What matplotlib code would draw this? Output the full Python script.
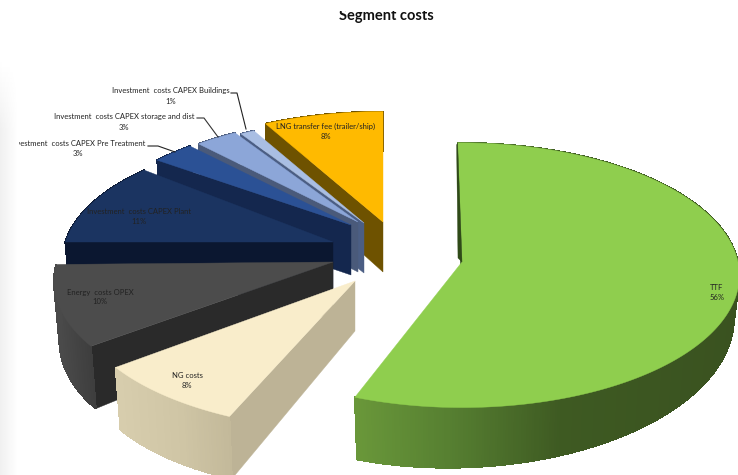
"""
Exploded 3D pie of the segment costs, projected by hand onto a pixel-sized axes
"""
import numpy as np
import matplotlib
matplotlib.use('Agg')
import matplotlib.pyplot as plt
from matplotlib.colors import to_rgb
from matplotlib.patches import Rectangle

names = ['TTF', 'NG costs', 'Energy  costs OPEX', 'Investment  costs CAPEX Plant',
         'Investment  costs CAPEX Pre Treatment', 'Investment  costs CAPEX storage and dist',
         'Investment  costs CAPEX Buildings', 'LNG transfer fee (trailer/ship)']
shares = [56, 8, 10, 11, 3, 3, 1, 8]

# look of each slice
top_colors = ['#8FCE4E', '#F9EDCB', '#4C4C4C', '#1B3461', '#2B5195', '#8CA6D8', '#A9BEE3', '#FFBA00']
edge_colors = ['#2F4A18', '#BDB396', '#2A2A2A', '#0B1730', '#14274E', '#4A5A7A', '#4B5E84', '#6E5200']
arc_stops = [
    [(352, '#6A983A'), (450, '#567F31'), (560, '#3E5A22'), (738, '#3A5220')],
    [(110, '#D8CEAE'), (180, '#CFC5A5'), (232, '#C2B899')],
    [(57, '#4A4A4A'), (95, '#3C3C3C')],
    [(60, '#0B1730'), (150, '#0B1730')],
    [(160, '#14274E'), (200, '#14274E')],
    [(200, '#4A5A7A'), (240, '#4A5A7A')],
    [(240, '#4B5E84'), (250, '#4B5E84')],
    [(265, '#6E5200'), (383, '#6E5200')],
]
apex_x = [462, 355, 333, 333, 351, 358, 364, 383]
apex_y = [262, 281, 262, 242, 225, 222, 223, 222]
rotate = [-1, 1.5, 2.5, 3.6, 0, 0, 0, 0]
reach = [1, 1, 1, 0.97, 0.94, 0.93, 0.93, 1]
persp = [0.10, 0.15, 0.15, 0.15, 0.15, 0.15, 0.15, 0.15]
radius_y = [131, 127, 127, 127, 127, 127, 127, 127]

draw_order = [7, 6, 5, 4, 3, 2, 1, 0]

RX = 276.0


def rim(i, theta, depth=False, r=1.0):
    # screen position of a point on slice i, theta clockwise from the top
    t = np.radians(np.asarray(theta) + rotate[i])
    u, v = np.sin(t) * r * reach[i], -np.cos(t) * r * reach[i]
    w = 1.0 / (1.0 - persp[i] * v)
    x, y = RX * u * w, radius_y[i] * v * w
    if depth:
        x = x * 0.98
        y = y + 50 - 8 * u + 10 * v
    return apex_x[i] + x, apex_y[i] + y


def mix(stops, x):
    xs = [s[0] for s in stops]
    rgb = np.array([to_rgb(s[1]) for s in stops])
    return [np.interp(x, xs, rgb[:, k]) for k in range(3)]


fig = plt.figure(figsize=(7.38, 4.75), dpi=100)
ax = fig.add_axes([0, 0, 1, 1])
plt.rcParams['font.family'] = ['Lato', 'DejaVu Sans']

edges = np.concatenate([[0], np.cumsum(shares)]) / float(sum(shares)) * 360.0

for n, i in enumerate(draw_order):
    z = 2 + n * 0.1
    a0, a1 = edges[i], edges[i + 1]
    thetas = np.linspace(a0, a1, max(int(a1 - a0) * 2, 6))
    tx, ty = rim(i, thetas)
    bx, by = rim(i, thetas, depth=True)

    # flat side along the first edge, then the curved outer side in strips
    ox, oy = rim(i, a0, depth=True, r=0.0)
    ax.fill([apex_x[i], tx[0], bx[0], ox], [apex_y[i], ty[0], by[0], oy],
            color=edge_colors[i], lw=0.3, zorder=z)
    for k in range(len(thetas) - 1):
        c = mix(arc_stops[i], (tx[k] + tx[k + 1]) / 2)
        ax.fill([tx[k], tx[k + 1], bx[k + 1], bx[k]], [ty[k], ty[k + 1], by[k + 1], by[k]],
                color=c, lw=0.6, antialiased=False, zorder=z)

    ax.fill(np.r_[apex_x[i], tx], np.r_[apex_y[i], ty], color=top_colors[i], lw=0.3, zorder=z)

# thin dark back side of the big slice
bx0, by0 = rim(0, 0)
ax.fill([apex_x[0], bx0, bx0 - 1, apex_x[0] - 4], [apex_y[0], by0, by0 + 2, apex_y[0] - 4],
        color=edge_colors[0], lw=0.3, zorder=3)

ax.plot([231, 237, 246], [93, 93, 129], color='#222222', lw=0.8, zorder=4)
ax.plot([197, 204, 218], [118, 118, 137], color='#333333', lw=0.8, zorder=4)
ax.plot([148, 158, 175], [146, 146, 152], color='#222222', lw=0.8, zorder=4)

label_x = [717, 187, 100, 139, 78, 124, 171, 326]
label_y = [293, 381, 297, 217, 149, 122, 96, 131]
for i in range(len(names)):
    ax.text(label_x[i], label_y[i], '%s\n%d%%' % (names[i], shares[i]), ha='center', va='center',
            fontsize=5.5, color='#222222', linespacing=1.5, zorder=5)

ax.text(386, 16, 'Segment costs', ha='center', va='center', fontsize=10.5,
        fontweight='bold', color='#111111', zorder=5)

# the title is cut at the top and the left edge has a soft grey band over the text
ax.add_patch(Rectangle((0, 0), 738, 11, color='white', lw=0, zorder=6))
shade = np.linspace(0.94, 1.0, 19)
img = np.tile(shade, (83, 1))
img = img + (1 - img) * np.interp(np.arange(60, 475, 5), [60, 130], [1.0, 0.0])[:, None]
ax.imshow(img, cmap='gray', vmin=0, vmax=1, extent=[0, 19, 475, 60], aspect='auto', zorder=6,
          interpolation='bilinear')

ax.set_xlim(0, 738)
ax.set_ylim(475, 0)
ax.axis('off')

fig.savefig('out.png', dpi=100)
